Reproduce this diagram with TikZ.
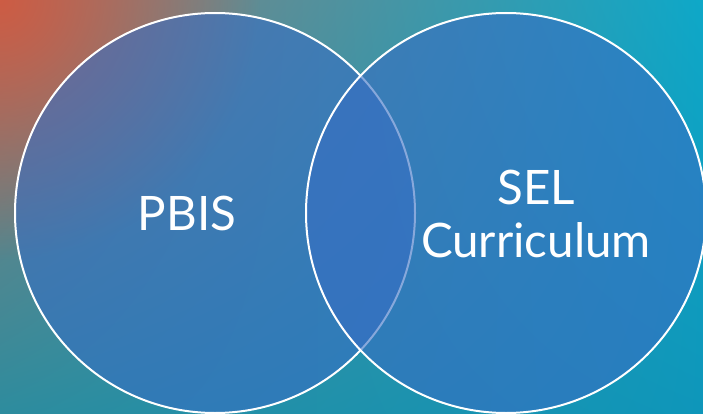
\documentclass[tikz,border=0pt]{standalone}
\usepackage{fontspec}
\setmainfont{Lato}
\usetikzlibrary{fadings,shadings}
\definecolor{bgul}{RGB}{140,125,120}
\definecolor{bgur}{RGB}{14,168,200}
\definecolor{bgll}{RGB}{45,140,158}
\definecolor{bglr}{RGB}{14,150,186}
\definecolor{warm}{RGB}{205,92,68}
\definecolor{setfill}{RGB}{55,110,195}
\tikzfading[name=warmfade, inner color=transparent!0, outer color=transparent!100]
\tikzset{
  setcircle/.style={fill=setfill, fill opacity=0.6, draw=white, draw opacity=1, line width=2pt},
  label/.style={text=white, font=\fontsize{47.5}{53}\selectfont, inner sep=0pt, anchor=base}
}
\begin{document}
\begin{tikzpicture}[x=1pt,y=-1pt]
  \useasboundingbox (0,0) rectangle (703,414);
  \clip (0,0) rectangle (703,414);
  % backdrop: teal-to-cyan wash with a warm glow in the upper left
  \shade[upper left=bgul, upper right=bgur, lower left=bgll, lower right=bglr]
    (0,0) rectangle (703,414);
  \fill[warm, path fading=warmfade] (0,0) circle (260);
  % the two sets
  \draw[setcircle] (215,213) circle (200);
  \draw[setcircle] (506,213) circle (200);
  % set labels
  \node[label] (pbis) at (187,230) {PBIS};
  \node[label] (sel) at (536,204) {SEL};
  \node[label] (curr) at (536,257) {Curriculum};
\end{tikzpicture}
\end{document}
